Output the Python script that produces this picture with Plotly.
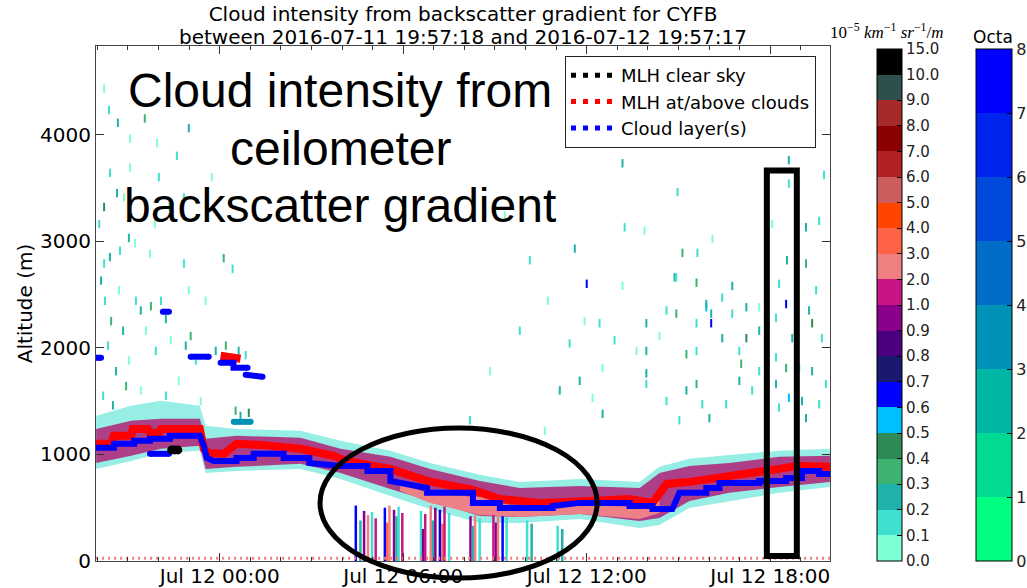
import pandas as pd
import plotly.graph_objects as go

# ---------------- time / axis definitions ----------------
START = pd.Timestamp("2016-07-11 19:57:18")
END = pd.Timestamp("2016-07-12 19:57:17")
REF = pd.Timestamp("2016-07-12 00:00:00")   # hours below are relative to this
YMAX = 4830

# ---------------- colour scales ----------------
grad_bounds = [0.0, 0.1, 0.2, 0.3, 0.4, 0.5, 0.6, 0.7, 0.8, 0.9, 1.0,
               2.0, 3.0, 4.0, 5.0, 6.0, 7.0, 8.0, 9.0, 10.0, 15.0]
grad_labels = ["0.0", "0.1", "0.2", "0.3", "0.4", "0.5", "0.6", "0.7", "0.8", "0.9",
               "1.0", "2.0", "3.0", "4.0", "5.0", "6.0", "7.0", "8.0", "9.0", "10.0", "15.0"]
grad_colors = ["#7fffd4", "#40e0d0", "#20b2aa", "#3cb371", "#2e8b57", "#00bfff", "#0000ff",
               "#191970", "#4b0082", "#8b008b", "#c71585", "#f08080", "#ff6347", "#ff4500",
               "#cd5c5c", "#b22222", "#8b0000", "#a52a2a", "#2f4f4f", "#000000"]
octa_labels = ["0", "1", "2", "3", "4", "5", "6", "7", "8"]
octa_colors = ["#00ff80", "#00da92", "#00b6a4", "#0092b6", "#006dc8", "#0049da", "#0024ed", "#0000ff"]

# ---------------- MLH at/above clouds (red) ----------------
mlh_cloud_h = [-4.04, -3.55, -3.46, -2.90, -2.84, -2.35, -2.28, -1.99, -1.92, -0.65, -0.52, -0.36,
               0.13, 0.55, 1.34, 2.64, 3.72, 4.04, 4.83, 5.58, 6.78, 8.28, 9.16, 10.47, 12.10,
               13.40, 14.15, 14.61, 15.36, 16.66, 17.64, 18.29, 18.85, 19.95]
mlh_cloud_alt = [1099, 1099, 1174, 1174, 1239, 1239, 1202, 1202, 1239, 1239, 1052, 1014,
                 1005, 1099, 1089, 1052, 986, 948, 901, 864, 751, 667, 582, 545, 563,
                 582, 545, 723, 742, 789, 826, 864, 892, 883]
mlh_cloud_upper_h = [0.03, 0.68]
mlh_cloud_upper_alt = [1925, 1897]

# ---------------- MLH clear sky (black) ----------------
mlh_clear_h = [-1.57, -1.47, -1.37]
mlh_clear_alt = [1042, 1042, 1042]

# ---------------- Cloud layer(s) (blue), segments with octa ----------------
cloud_seg_h = [
    [-4.04, -3.46, -3.46, -2.80, -2.80, -2.28, -2.28, -1.63, -1.63, -0.65, -0.52, -0.42, -0.20,
     0.55, 0.55, 1.11, 1.11, 2.09, 2.09, 2.93, 2.93, 3.95, 4.83, 4.83, 5.58, 5.58, 6.78, 6.78,
     8.28, 8.28, 9.16, 9.16, 10.89, 10.89, 11.77, 13.40, 13.40, 14.15, 14.15, 14.80, 15.03,
     15.91, 15.91, 16.34, 16.34, 17.64, 17.64, 18.52, 18.52, 19.04, 19.04, 19.60, 19.60, 19.95],
    [-4.02, -3.88],
    [-1.86, -1.66],
    [-0.95, -0.36],
    [0.03, 0.45, 0.45, 0.91],
    [0.85, 1.40],
    [-2.28, -1.66],
    [0.46, 1.01],
]
cloud_seg_alt = [
    [1061, 1061, 1099, 1099, 1127, 1127, 1146, 1146, 1174, 1174, 1080, 967, 939,
     939, 967, 967, 1005, 1005, 967, 967, 920, 892, 892, 845, 845, 751, 685, 639,
     639, 545, 545, 498, 498, 516, 545, 545, 516, 516, 488, 488, 639,
     639, 685, 685, 732, 732, 751, 751, 779, 779, 845, 845, 817, 817],
    [1906, 1906],
    [2338, 2338],
    [1916, 1916],
    [1859, 1859, 1812, 1812],
    [1747, 1728],
    [1005, 1005],
    [1305, 1305],
]
cloud_seg_octa = [8, 8, 8, 8, 8, 8, 8, 4]

# ---------------- backscatter-gradient cloud band ----------------
band_h = [-4.04, -2.90, -1.92, -0.65, -0.46, 0.55, 2.64, 3.95, 5.58, 6.88, 8.51, 9.81,
          11.77, 13.73, 14.38, 15.36, 16.66, 18.29, 19.95]
teal_top = [1362, 1455, 1502, 1455, 1268, 1239, 1221, 1127, 1033, 920, 808, 742,
            770, 742, 883, 958, 995, 1033, 1052]
teal_bot = [864, 939, 1014, 1033, 826, 845, 864, 770, 610, 488, 357, 357,
            394, 310, 338, 498, 563, 639, 695]
purple_top = [1239, 1315, 1333, 1333, 1146, 1174, 1155, 1052, 977, 864, 751, 685,
              704, 685, 826, 892, 920, 977, 986]
purple_bot = [920, 986, 1052, 1080, 864, 883, 911, 826, 676, 563, 423, 413,
              441, 376, 404, 563, 639, 695, 742]
pink_h = [5.9, 6.88, 8.51, 9.81, 11.77, 13.73, 14.38]
pink_top = [732, 629, 601, 498, 526, 507, 657]
pink_bot = [657, 545, 432, 413, 441, 394, 451]

# ---------------- precipitation streaks (value = gradient) ----------------
rain_h = [4.45, 4.60, 4.72, 4.85, 4.98, 5.10, 5.40, 5.48, 5.55, 5.70, 5.78, 5.85, 5.97,
          6.58, 6.65, 6.72, 6.90, 6.98, 7.05, 7.20, 7.28, 7.35, 7.50,
          8.20, 8.28, 8.35, 8.50, 8.95, 9.03, 9.10, 9.25, 9.38,
          10.05, 10.20, 11.05, 11.20]
rain_top = [520, 380, 470, 430, 460, 400, 500, 360, 520, 480, 420, 510, 450,
            470, 300, 440, 520, 380, 500, 480, 350, 510, 450,
            420, 330, 430, 400, 430, 360, 500, 420, 410,
            380, 350, 330, 300]
rain_val = [0.65, 0.25, 0.95, 2.5, 0.15, 1.5, 0.65, 3.5, 2.5, 0.95, 0.25, 0.15, 1.5,
            0.15, 0.95, 1.5, 2.5, 0.25, 0.95, 0.65, 3.5, 1.5, 0.15,
            0.95, 0.25, 2.5, 0.15, 1.5, 0.95, 2.5, 0.65, 0.15,
            0.15, 0.25, 0.15, 0.25]

# ---------------- surface noise ----------------
surface_h = [-4.04, 19.95]
surface_alt = [25, 25]

# ---------------- sparse echoes (hours, altitude m, gradient) ----------------
spk_h = [-3.78, -3.62, -3.33, -2.93, -2.45, -2.05, -1.40, -1.01, -3.59, -2.93, -1.99, -3.36,
         -3.13, -3.78, -3.94, -2.12, -1.17, -1.66, -0.26, -2.97, -3.26, -2.77, 0.13, -1.17,
         -2.28, -3.59, -3.78,
         -3.88, -3.75, -3.55, -3.29, -3.16, -3.65, -3.39, -3.06, -3.81, -3.49, -2.97, -2.74,
         -2.58, -2.25, -1.92, -1.76, -2.41, -2.09, -1.60, -1.11, -0.95, -0.78, -1.34, -1.76,
         -2.58, -0.46, 0.42, -0.13, 0.20, 0.62, 0.85, 0.52, 0.68, 0.95, -0.62, -1.01,
         13.17, 14.97, 11.61, 13.24, 13.89, 15.13, 15.62, 16.11, 14.87, 15.59, 16.43, 12.00,
         13.17, 12.42, 13.95, 14.61, 14.93, 15.91, 16.07, 16.76, 17.22, 17.64, 12.91, 13.95,
         14.38, 15.26, 15.59, 16.43, 16.99, 17.22, 17.64, 18.19, 18.52, 18.29, 18.55, 18.06,
         18.61, 19.17, 19.60, 19.17, 19.50, 19.27, 19.37, 19.69, 18.72, 18.19, 18.52, 18.95,
         19.37, 19.82, 18.19, 17.87, 18.61, 19.04, 19.60, 19.17, 18.29, 12.52, 13.95, 14.61,
         15.26, 15.59, 15.78, 16.01, 16.56, 16.99, 17.41, 17.05, 17.64, 12.52, 15.03, 13.63,
         13.95, 11.93, 11.44, 11.77, 12.19, 15.91, 14.93, 16.76, 16.07, 15.59,
         9.33, 10.14, 10.73, 9.81, 8.84, 11.12, 8.18, 10.63, 18.95, 19.43, 18.61, 19.76]
spk_alt = [4430, 4230, 4110, 3960, 4150, 3920, 3800, 4060, 3640, 3690, 3600, 3450,
           3410, 3320, 3160, 3160, 3410, 3320, 3600, 3030, 2910, 2980, 2840, 2790,
           2880, 2850, 2790,
           2630, 2440, 2250, 2540, 2160, 2020, 1780, 1640, 1550, 1460, 1880, 2440,
           2350, 2390, 2440, 2270, 2160, 1970, 2070, 2020, 2110, 1880, 1690, 1550,
           1600, 2440, 2740, 1970, 2020, 1970, 1930, 1410, 1360, 1390, 1500, 2540,
           3730, 3460, 2930, 3130, 3100, 2890, 2890, 3020, 2660, 2610, 2470, 2600,
           2580, 2230, 2230, 2350, 2320, 2380, 2320, 2320, 2380, 2380, 2070, 1970,
           2110, 1940, 1970, 2090, 1970, 2090, 2160, 2280, 2410, 2600, 2820, 3160,
           3540, 3130, 3190, 2790, 2540, 2350, 2230, 2090, 2090, 1910, 1810, 1810,
           1780, 1660, 1660, 1530, 1530, 1500, 1470, 1340, 1440, 1810, 1760, 1500,
           1600, 1660, 1470, 1340, 1470, 1690, 1600, 1850, 1780, 1380, 1320, 1970,
           1660, 2250, 2040, 1690, 1530, 2410, 2660, 2580, 2230, 2230,
           3240, 2820, 2440, 2160, 1780, 1600, 1320, 1220, 4410, 4130, 3760, 3620]
spk_val = [0.05, 0.15, 0.25, 0.05, 0.35, 0.05, 0.15, 0.25, 0.15, 0.05, 0.15, 0.25,
           0.05, 0.45, 0.15, 0.05, 0.15, 0.05, 0.05, 0.25, 0.15, 0.05, 0.35, 0.15,
           0.05, 0.25, 0.15,
           0.25, 0.15, 0.35, 0.05, 0.25, 0.15, 0.25, 0.35, 0.15, 0.25, 0.05, 0.15,
           0.25, 0.35, 0.15, 0.25, 0.05, 0.15, 0.05, 0.25, 0.35, 0.15, 0.05, 0.15,
           0.05, 0.05, 0.15, 0.25, 0.35, 0.25, 0.15, 0.35, 0.25, 0.45, 0.05, 0.05,
           0.25, 0.15, 0.25, 0.15, 0.05, 0.35, 0.15, 0.05, 0.25, 0.35, 0.15, 0.65,
           0.05, 0.15, 0.25, 0.15, 0.35, 0.55, 0.25, 0.15, 0.25, 0.05, 0.15, 0.25,
           0.05, 0.35, 0.15, 0.25, 0.15, 0.45, 0.25, 0.15, 0.65, 0.15, 0.25, 0.05,
           0.15, 0.25, 0.15, 0.35, 0.15, 0.25, 0.45, 0.15, 0.25, 0.15, 0.35, 0.15,
           0.25, 0.15, 0.25, 0.15, 0.55, 0.25, 0.15, 0.25, 0.15, 0.05, 0.25, 0.15,
           0.25, 0.35, 0.15, 0.25, 0.15, 0.25, 0.15, 0.35, 0.15, 0.25, 0.15, 0.05,
           0.15, 0.05, 0.15, 0.25, 0.05, 0.25, 0.15, 0.25, 0.65, 0.15,
           0.05, 0.15, 0.05, 0.15, 0.05, 0.25, 0.15, 0.05, 0.15, 0.05, 0.25, 0.15]

# ---------------- highlight marks (hours, altitude) ----------------
ellipse_h = [3.28, 12.34]
ellipse_alt = [-159, 1248]
box_h = [17.89, 18.87]
box_alt = [47, 3663]


# ---------------- helpers ----------------
def tm(hours):
    return [None if h is None else REF + pd.Timedelta(hours=h) for h in hours]


def xpaper(h):
    return (REF + pd.Timedelta(hours=h) - START) / (END - START)


def ypaper(a):
    return a / YMAX


def discrete(colors):
    n = len(colors)
    cs = []
    for i, c in enumerate(colors):
        cs += [[i / n, c], [(i + 1) / n, c]]
    return cs


def level_index(v):
    for i in range(len(grad_bounds) - 1):
        lo, hi = grad_bounds[i], grad_bounds[i + 1]
        if v < hi:
            return i + (v - lo) / (hi - lo)
    return len(grad_bounds) - 1


def grad_color(v):
    return grad_colors[min(int(level_index(v)), len(grad_colors) - 1)]


FONT = "DejaVu Sans"
PLOT_L, PLOT_R, PLOT_T, PLOT_B = 96, 830, 46, 561
PW, PH = PLOT_R - PLOT_L, PLOT_B - PLOT_T


def px(x):
    return (x - PLOT_L) / PW


def py(y):
    return (PLOT_B - y) / PH


fig = go.Figure()

# cloud band layers
for top, bot, hh, col in [(teal_top, teal_bot, band_h, "rgba(64,224,208,0.55)"),
                          (purple_top, purple_bot, band_h, "#ad3f88"),
                          (pink_top, pink_bot, pink_h, "#ee8088")]:
    fig.add_trace(go.Scatter(x=tm(hh + hh[::-1]), y=top + bot[::-1], mode="lines",
                             fill="toself", fillcolor=col, line=dict(width=0),
                             hoverinfo="skip", showlegend=False))

# precipitation streaks
for h, top, v in zip(rain_h, rain_top, rain_val):
    fig.add_trace(go.Scatter(x=tm([h, h]), y=[0, top], mode="lines",
                             line=dict(color=grad_color(v), width=2.5),
                             hoverinfo="skip", showlegend=False))

# surface noise
fig.add_trace(go.Scatter(x=tm(surface_h), y=surface_alt, mode="lines",
                         line=dict(color="#f08080", width=3, dash="2px,4px"),
                         hoverinfo="skip", showlegend=False))

# sparse echoes -> backscatter gradient colourbar
fig.add_trace(go.Scatter(
    x=tm(spk_h), y=spk_alt, mode="markers", showlegend=False, hoverinfo="skip",
    marker=dict(symbol="line-ns", size=6,
                line=dict(width=2, color=[grad_color(v) for v in spk_val]),
                color=[level_index(v) for v in spk_val],
                colorscale=discrete(grad_colors), cmin=0, cmax=20, showscale=True,
                colorbar=dict(
                    xref="paper", x=px(877), xanchor="left",
                    yref="paper", y=py(561), yanchor="bottom",
                    len=(561 - 49) / PH, lenmode="fraction",
                    thickness=25, thicknessmode="pixels", xpad=0, ypad=0,
                    outlinecolor="black", outlinewidth=1,
                    tickmode="array", tickvals=list(range(len(grad_labels))), ticktext=grad_labels,
                    ticks="inside", ticklen=5, tickcolor="black",
                    tickfont=dict(family=FONT, size=15, color="#222"),
                ))))

# MLH at/above clouds
fig.add_trace(go.Scatter(x=tm(mlh_cloud_h), y=mlh_cloud_alt, mode="lines",
                         line=dict(color="#ff0000", width=8), showlegend=False, hoverinfo="skip"))
fig.add_trace(go.Scatter(x=tm(mlh_cloud_upper_h), y=mlh_cloud_upper_alt, mode="lines",
                         line=dict(color="#ff0000", width=8), showlegend=False, hoverinfo="skip"))

# cloud layers
pts_h, pts_a, pts_o = [], [], []
for hh, aa, o in zip(cloud_seg_h, cloud_seg_alt, cloud_seg_octa):
    col = octa_colors[min(o, 8) - 1]
    fig.add_trace(go.Scatter(x=tm(hh), y=aa, mode="lines",
                             line=dict(color=col, width=6), showlegend=False, hoverinfo="skip"))
    pts_h += [hh[0], hh[-1]]
    pts_a += [aa[0], aa[-1]]
    pts_o += [o - 0.5, o - 0.5]
fig.add_trace(go.Scatter(
    x=tm(pts_h), y=pts_a, mode="markers", showlegend=False, hoverinfo="skip",
    marker=dict(size=6, color=pts_o, colorscale=discrete(octa_colors), cmin=0, cmax=8,
                showscale=True,
                colorbar=dict(
                    xref="paper", x=px(976), xanchor="left",
                    yref="paper", y=py(561), yanchor="bottom",
                    len=(561 - 49) / PH, lenmode="fraction",
                    thickness=36, thicknessmode="pixels", xpad=0, ypad=0,
                    outlinecolor="black", outlinewidth=1,
                    tickmode="array", tickvals=list(range(9)), ticktext=octa_labels,
                    ticks="inside", ticklen=5, tickcolor="black",
                    tickfont=dict(family=FONT, size=16, color="#222"),
                ))))

# MLH clear sky
fig.add_trace(go.Scatter(x=tm(mlh_clear_h), y=mlh_clear_alt, mode="markers",
                         marker=dict(color="black", size=9), showlegend=False, hoverinfo="skip"))

# legend entries (three-dot symbols)
for name, col in [("MLH clear sky", "black"), ("MLH at/above clouds", "red"),
                  ("Cloud layer(s)", "blue")]:
    fig.add_trace(go.Scatter(x=[None], y=[None], mode="lines", name=name,
                             line=dict(color=col, width=5, dash="5px,7px")))

# highlight shapes
fig.add_shape(type="circle", xref="paper", yref="paper",
              x0=xpaper(ellipse_h[0]), x1=xpaper(ellipse_h[1]),
              y0=ypaper(ellipse_alt[0]), y1=ypaper(ellipse_alt[1]),
              line=dict(color="black", width=5))
fig.add_shape(type="rect", xref="paper", yref="paper",
              x0=xpaper(box_h[0]), x1=xpaper(box_h[1]),
              y0=ypaper(box_alt[0]), y1=ypaper(box_alt[1]),
              line=dict(color="black", width=6))

annotations = []
for txt, yy in [("Cloud intensity from", 90.5), ("ceilometer", 149), ("backscatter gradient", 205)]:
    annotations.append(dict(text=txt, xref="paper", yref="paper", x=px(340),
                            y=py(yy), xanchor="center", yanchor="middle",
                            showarrow=False, font=dict(family="Liberation Sans", size=48, color="black")))
annotations.append(dict(text="between 2016-07-11 19:57:18 and 2016-07-12 19:57:17",
                        xref="paper", yref="paper", x=0.5, y=py(37),
                        xanchor="center", yanchor="middle", showarrow=False,
                        font=dict(family=FONT, size=20, color="black")))
annotations.append(dict(text="10<sup>\u22125</sup> <i>km</i><sup>\u22121</sup> <i>sr</i><sup>\u22121</sup>/<i>m</i>",
                        xref="paper", yref="paper", x=px(887), y=py(31),
                        xanchor="center", yanchor="middle", showarrow=False,
                        font=dict(family="Liberation Serif", size=17, color="black")))
annotations.append(dict(text="Octa", xref="paper", yref="paper", x=px(993),
                        y=py(37), xanchor="center", yanchor="middle", showarrow=False,
                        font=dict(family=FONT, size=17, color="black")))

fig.update_layout(
    width=1027, height=588,
    margin=dict(l=PLOT_L, r=1027 - PLOT_R, t=PLOT_T, b=588 - PLOT_B, autoexpand=False),
    paper_bgcolor="white", plot_bgcolor="white",
    title=dict(text="Cloud intensity from backscatter gradient for CYFB",
               x=0.5, xref="paper", y=1 - 14 / 588, yref="container",
               xanchor="center", yanchor="middle",
               font=dict(family=FONT, size=20, color="black")),
    annotations=annotations,
    showlegend=True,
    legend=dict(x=px(565), y=py(56), xanchor="left", yanchor="top",
                itemwidth=45,
                bgcolor="white", bordercolor="#222", borderwidth=1,
                font=dict(family=FONT, size=18, color="black")),
    xaxis=dict(type="date", range=[START, END], tickformat="%b %d %H:%M",
               tick0="2016-07-12 00:00:00", dtick=6 * 3600 * 1000,
               ticks="inside", ticklen=8, tickcolor="#333", mirror="ticks",
               showline=True, linecolor="#444", linewidth=1, showgrid=False, zeroline=False,
               ticklabelstandoff=-3,
               minor=dict(dtick=3600 * 1000, ticks="inside", ticklen=4, tickcolor="#333"),
               tickfont=dict(family=FONT, size=20, color="black")),
    yaxis=dict(range=[0, YMAX], dtick=1000, ticks="inside", ticklen=8, tickcolor="#333",
               mirror="ticks", showline=True, linecolor="#444", linewidth=1,
               showgrid=False, zeroline=False,
               tickfont=dict(family=FONT, size=20, color="black"),
               title=dict(text="Altitude (m)", standoff=2,
                          font=dict(family=FONT, size=20, color="black"))),
)

fig.write_html("out.html")
